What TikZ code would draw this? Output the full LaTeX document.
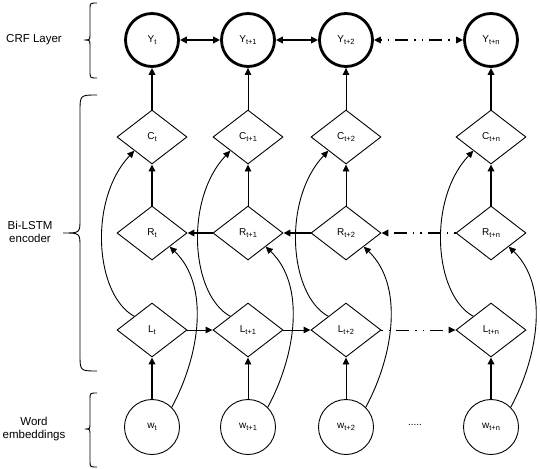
\documentclass[tikz,border=0pt]{standalone}
\usepackage{fontspec}
\setmainfont{Liberation Sans}
\usetikzlibrary{shapes.geometric,arrows.meta,calc}
\newcommand{\sbs}[1]{\raisebox{-1.8pt}{\fontsize{7.5}{8}\selectfont #1}}
\begin{document}
\begin{tikzpicture}[x=1pt,y=-1pt,
  nfont/.style={font=\fontsize{10}{12}\selectfont},
  ycirc/.style={circle,draw,line width=2.8pt,minimum size=53pt,inner sep=0pt,nfont},
  wcirc/.style={circle,draw,line width=0.9pt,minimum size=55pt,inner sep=0pt,nfont},
  dnode/.style={diamond,draw,line width=0.9pt,minimum width=70pt,minimum height=54pt,inner sep=0pt,nfont},
  arr/.style={-{Triangle[length=7pt,width=6.5pt]}},
  darr/.style={{Triangle[length=7pt,width=6.5pt]}-{Triangle[length=7pt,width=6.5pt]}},
  thk/.style={line width=1.8pt},
  thn/.style={line width=0.9pt},
  dd/.style={dash pattern=on 1.5pt off 6pt on 1.5pt off 6pt on 13pt off 6pt},
  bracepath/.style={line width=0.9pt},
  lbl/.style={align=center,font=\fontsize{11.5}{13.5}\selectfont}
]
\useasboundingbox (0,0) rectangle (540,468);

% column nodes
\node[ycirc] (Y1) at (152,40) {Y\sbs{t}};
\node[ycirc] (Y2) at (248,40) {Y\sbs{t+1}};
\node[ycirc] (Y3) at (346,40) {Y\sbs{t+2}};
\node[ycirc] (Y4) at (491,40) {Y\sbs{t+n}};

\node[dnode] (C1) at (152,137) {C\sbs{t}};
\node[dnode] (C2) at (248,137) {C\sbs{t+1}};
\node[dnode] (C3) at (346,137) {C\sbs{t+2}};
\node[dnode] (C4) at (491,137) {C\sbs{t+n}};

\node[dnode] (R1) at (152,233) {R\sbs{t}};
\node[dnode] (R2) at (248,233) {R\sbs{t+1}};
\node[dnode] (R3) at (346,233) {R\sbs{t+2}};
\node[dnode] (R4) at (491,233) {R\sbs{t+n}};

\node[dnode] (L1) at (152,330) {L\sbs{t}};
\node[dnode] (L2) at (248,330) {L\sbs{t+1}};
\node[dnode] (L3) at (346,330) {L\sbs{t+2}};
\node[dnode] (L4) at (491,330) {L\sbs{t+n}};

\node[wcirc] (W1) at (152,427) {w\sbs{t}};
\node[wcirc] (W2) at (248,427) {w\sbs{t+1}};
\node[wcirc] (W3) at (346,427) {w\sbs{t+2}};
\node[wcirc] (W4) at (491,427) {w\sbs{t+n}};

\node[nfont] (dots) at (415,425) {.....};

% CRF row
\draw[thk,darr] (Y1) -- (Y2);
\draw[thk,darr] (Y2) -- (Y3);
\draw[thk,darr,dd] (Y3) -- (Y4);

% verticals
\draw[thk,arr] (C1) -- (Y1);
\draw[thn,arr] (C2) -- (Y2);
\draw[thn,arr] (C3) -- (Y3);
\draw[thk,arr] (C4) -- (Y4);
\draw[thk,arr] (R1) -- (C1);
\draw[thn,arr] (R2) -- (C2);
\draw[thn,arr] (R3) -- (C3);
\draw[thk,arr] (R4) -- (C4);
\draw[thk,arr] (W1) -- (L1);
\draw[thn,arr] (W2) -- (L2);
\draw[thn,arr] (W3) -- (L3);
\draw[thk,arr] (W4) -- (L4);

% R row (backward)
\draw[thk,arr] (R2) -- (R1);
\draw[thk,arr] (R3) -- (R2);
\draw[thk,arr,dd] (R4) -- (R3);

% L row (forward)
\draw[thn,arr] (L1) -- (L2);
\draw[thn,arr] (L2) -- (L3);
\draw[thn,arr,dd] (L3) -- (L4);

% curved skip connections
\foreach \i in {1,2,3,4}{
  \draw[thn,arr] (L\i.north west) .. controls ($(L\i)+(-57,-35)$) and ($(L\i)+(-64,-130)$) .. (C\i.south west);
  \draw[thn,arr] (W\i.45) .. controls ($(W\i)+(48,-72)$) and ($(W\i)+(58,-142)$) .. (R\i.south east);
}

% braces
\draw[bracepath] (97,3) .. controls (90,3) .. (90,10) -- (90,34) .. controls (90,40) .. (84,40)
  .. controls (90,40) .. (90,46) -- (90,71) .. controls (90,78) .. (97,78);
\draw[bracepath] (97,95) .. controls (80,95) .. (80,112) -- (80,219) .. controls (80,233) .. (63,233)
  .. controls (80,233) .. (80,247) -- (80,354) .. controls (80,371) .. (97,371);
\draw[bracepath] (97,393) .. controls (90,393) .. (90,399) -- (90,423) .. controls (90,429) .. (85,429)
  .. controls (90,429) .. (90,435) -- (90,461) .. controls (90,467) .. (97,467);

% labels
\node[lbl] (tcrf) at (34,40) {CRF Layer};
\node[lbl] (tbi) at (30,232) {Bi-LSTM\\encoder};
\node[lbl] (tw) at (34,429) {Word\\embeddings};
\end{tikzpicture}
\end{document}
